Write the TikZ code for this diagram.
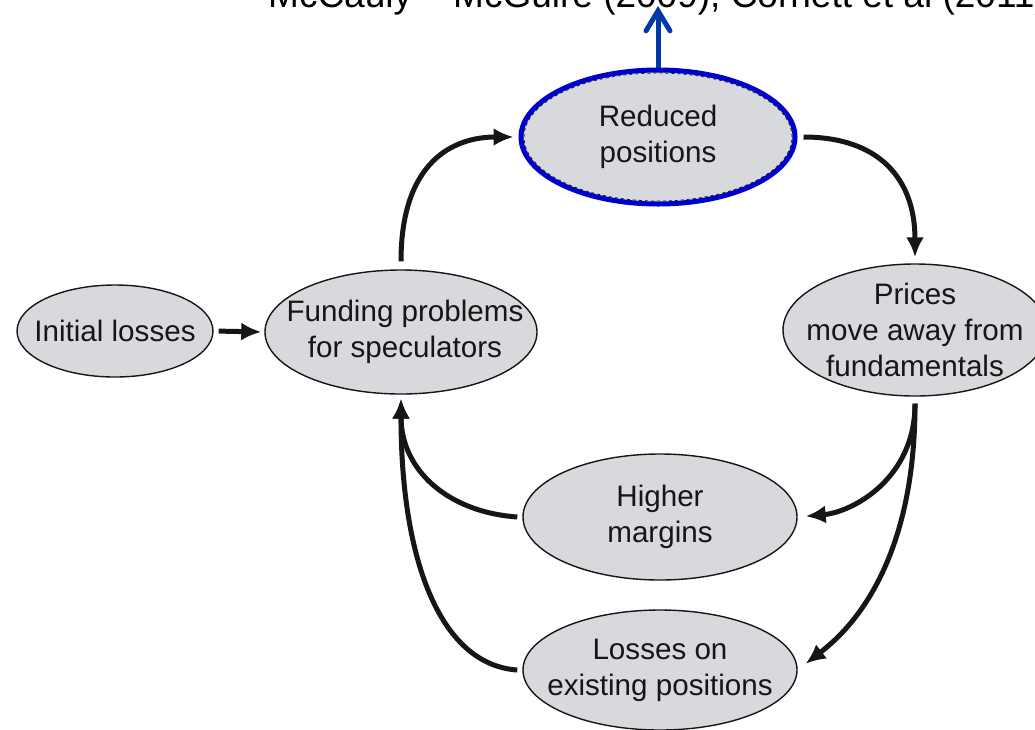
\documentclass[tikz,border=0pt]{standalone}
\usepackage{fontspec}
\setmainfont{Liberation Sans}
\usetikzlibrary{arrows.meta,shapes.geometric}
\definecolor{ellfill}{RGB}{216,217,220}
\definecolor{hiblue}{RGB}{0,0,204}
\definecolor{arrblue}{RGB}{0,56,168}
\definecolor{ink}{RGB}{22,22,22}
\begin{document}
\begin{tikzpicture}[x=1pt,y=-1pt,
  bubble/.style={ellipse, draw=ink, line width=1.4pt, fill=ellfill, inner sep=0pt},
  txt/.style={font=\fontsize{29.6}{36}\selectfont, align=center, text=ink, inner sep=0pt},
  flow/.style={draw=ink, line width=5pt, -{Latex[length=20pt,width=18pt]}},
  hilite/.style={draw=hiblue, line width=5pt},
  bluearrow/.style={draw=arrblue, line width=5pt, -{Straight Barb[length=20pt,width=24pt,line width=5pt,line cap=round]}}
]
\useasboundingbox (0,0) rectangle (1035,729);
\clip (0,0) rectangle (1035,729);
\fill[white] (0,0) rectangle (1035,729);

% citation (partly cut off at the top, as in the reference)
\node[anchor=base west, inner sep=0pt, font=\fontsize{37}{40}\selectfont] (cite) at (268,7) {McCauly -- McGuire (2009), Cornett et al (2011)};

% nodes
\node[bubble, minimum width=196pt, minimum height=92pt,
  label={[txt]center:Initial losses}] (ini) at (115,331) {};
\node[bubble, minimum width=272pt, minimum height=124pt,
  label={[txt, xshift=4pt]center:{Funding problems\\for speculators}}] (fund) at (401,332) {};
\node[bubble, hilite, minimum width=274pt, minimum height=134pt,
  label={[txt]center:{Reduced\\positions}}] (red) at (658,137) {};
\node[ellipse, draw=ink, dashed, line width=0.8pt, minimum width=268pt, minimum height=128pt, inner sep=0pt] (redin) at (658,137) {};
\node[bubble, minimum width=264pt, minimum height=132pt,
  label={[txt]center:{Prices\\move away from\\fundamentals}}] (pri) at (915,330) {};
\node[bubble, minimum width=274pt, minimum height=126pt,
  label={[txt]center:{Higher\\margins}}] (hig) at (660,517) {};
\node[bubble, minimum width=274pt, minimum height=120pt,
  label={[txt]center:{Losses on\\existing positions}}] (los) at (660,670) {};

% connectors
\draw[flow, shorten <=5pt, shorten >=3pt] (ini.east) -- (fund.west);
\draw[flow, shorten >=5pt] ([yshift=8pt]fund.north) .. controls +(0,-100) and +(-65,0) .. (red.west);
\draw[flow, shorten >=6pt] ([xshift=6pt]red.east) .. controls +(75,0) and +(0,-85) .. (pri.north);
\draw[flow, shorten >=8pt] ([yshift=-7pt]pri.south) .. controls +(0,75) and +(55,-5) .. (hig.east);
\draw[flow, shorten >=10pt] ([yshift=-7pt]pri.south) .. controls +(0,170) and +(45,-35) .. (los.east);
\draw[flow, shorten >=4pt] ([xshift=-5pt]hig.west) .. controls +(-70,-5) and +(0,75) .. (fund.south);
\draw[flow, shorten >=4pt] ([xshift=-5pt]los.west) .. controls +(-75,-5) and +(0,170) .. (fund.south);

% blue arrow to citation
\coordinate (citetip) at (658,6);
\draw[bluearrow] (red.north) -- (citetip);
\end{tikzpicture}
\end{document}
